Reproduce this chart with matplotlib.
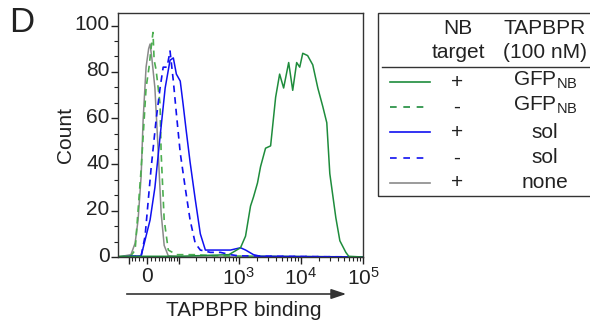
import numpy as np
import matplotlib.pyplot as plt
import matplotlib.transforms as mtransforms
from matplotlib.lines import Line2D
from matplotlib.patches import Rectangle

plt.rcParams['font.family'] = ['Liberation Sans', 'DejaVu Sans']
plt.rcParams['mathtext.fontset'] = 'custom'
plt.rcParams['mathtext.rm'] = 'Liberation Sans'
plt.rcParams['mathtext.it'] = 'Liberation Sans:italic'

# histogram traces (fluorescence intensity, count)
gray_x = [-88, -43, -31, -23, -15, -10, -2.5, 4, 7.6, 12, 20, 29, 37, 46, 59, 150, 1e5]
gray_y = [0, 1, 6, 16, 35, 59, 82, 90, 92, 86, 73, 45, 19, 5, 0.5, 0, 0]

gfp_neg_x = [-88, -43, -31, -15, -2.5, 5, 10, 15, 18, 23, 34, 37, 46, 59, 90, 200, 400, 1e5]
gfp_neg_y = [0, 0.5, 3, 38, 73, 82, 90, 97, 85, 81, 66, 45, 16, 3, 1, 1, 0.5, 0]

sol_neg_x = [-88, -15, -5, 10, 23, 34, 43, 55, 65, 77, 89, 106, 131, 160, 196, 239, 350, 511, 741, 1000, 1e5]
sol_neg_y = [0, 0.5, 9, 38, 59, 73, 82, 82, 89, 76, 62, 45, 30, 16, 6, 3, 2, 2, 1, 0.5, 0]

sol_pos_x = [-88, -15, 7.6, 20, 34, 49, 65, 77, 89, 106, 120, 136, 160, 196, 239, 290, 350, 511, 741,
             1077, 1300, 1745, 2260, 1e5]
sol_pos_y = [0, 0.5, 16, 30, 52, 73, 85, 86, 79, 76, 66, 55, 41, 25, 10, 3, 3, 3, 3, 4, 3, 1, 0.3, 0]

gfp_pos_x = [-88, 100, 700, 1077, 1297, 1560, 1745, 2020, 2260, 2720, 3280, 3950, 4580, 5310, 6400,
             7430, 8600, 9630, 10770, 12900, 15600, 18800, 22600, 26200, 29300, 36600, 42500,
             53000, 59000, 1e5]
gfp_pos_y = [0.3, 0.3, 1, 4, 9, 22, 26, 32, 39, 47, 48, 69, 79, 73, 84, 72, 84, 82, 88, 87, 83, 73,
             65, 58, 36, 17, 7, 2, 0.3, 0]

green = '#1e8c3c'
green_l = '#4cae50'
blue = '#1010f0'
grey = '#8a8a8a'
txt = '#222222'
fs = 15

fig = plt.figure(figsize=(5.9, 3.32), dpi=100)
ax = fig.add_axes([118/590, 1-257/332, 245/590, 244/332])

w = 68.0
ax.set_xscale('function', functions=(lambda x: np.arcsinh(np.asarray(x)/w),
                                     lambda y: w*np.sinh(y)))

ax.plot(gray_x, gray_y, color=grey, lw=1.1)
ax.plot(gfp_neg_x, gfp_neg_y, color=green_l, lw=1.2, ls=(0, (4, 3)))
ax.plot(sol_neg_x, sol_neg_y, color=blue, lw=1.2, ls=(0, (4, 3)))
ax.plot(sol_pos_x, sol_pos_y, color=blue, lw=1.1)
ax.plot(gfp_pos_x, gfp_pos_y, color=green, lw=1.1)

ax.set_xlim(-88, 1e5)
ax.set_ylim(0, 105.4)

ax.set_xticks([-50, 0, 100, 1e3, 1e4, 1e5])
ax.set_xticklabels(['', '0', '', r'$10^3$', r'$10^4$', r'$10^5$'])
minor = [-40, -30, -20, -10, 10, 20, 30, 40, 50, 60, 70, 80, 90]
minor += [200, 300, 400, 500, 600, 700, 800, 900]
minor += [2000, 3000, 4000, 5000, 6000, 7000, 8000, 9000]
minor += [20000, 30000, 40000, 50000, 60000, 70000, 80000, 90000]
ax.set_xticks(minor, minor=True)
ax.set_yticks([0, 20, 40, 60, 80, 100])
ax.set_yticks([v*20/3 for v in range(16) if v % 3], minor=True)

ax.tick_params(axis='both', which='major', direction='out', length=5, width=1,
               labelsize=fs, colors=txt)
ax.tick_params(axis='both', which='minor', direction='out', length=3, width=0.8, colors=txt)
ax.tick_params(axis='y', which='major', pad=1)
ax.tick_params(axis='x', which='major', pad=2)
up = mtransforms.ScaledTranslation(0, 3/100, fig.dpi_scale_trans)
for lab in ax.get_yticklabels():
    lab.set_transform(lab.get_transform() + up)
for s in ax.spines.values():
    s.set_linewidth(1.0)
    s.set_color('#333333')

fig.text(66/590, 1-135/332, 'Count', rotation=90, ha='center', va='center', fontsize=fs, color=txt)
fig.text(22/590, 1-22/332, 'D', ha='center', va='center', fontsize=25, color=txt)
fig.text(244/590, 1-311/332, 'TAPBPR binding', ha='center', va='center', fontsize=fs, color=txt)
fig.add_artist(plt.Line2D([127/590, 340/590], [1-294/332, 1-294/332], color='#333333', lw=1.2))
ax.annotate('', xy=(349/590, 1-294/332), xytext=(330/590, 1-294/332), xycoords='figure fraction',
            arrowprops=dict(arrowstyle='-|>,head_length=0.9,head_width=0.3', color='#333333', lw=1.2))

# legend table
fig.add_artist(Rectangle((378/590, 1-196/332), 230/590, 183/332, transform=fig.transFigure,
                         fill=False, ec='#333333', lw=1.0))
fig.add_artist(Line2D([382/590, 1.0], [1-67/332, 1-67/332], color='#333333', lw=1.0))
fig.text(458/590, 1-28/332, 'NB', ha='center', va='center', fontsize=fs, color=txt)
fig.text(458/590, 1-53/332, 'target', ha='center', va='center', fontsize=fs, color=txt)
fig.text(545/590, 1-28/332, 'TAPBPR', ha='center', va='center', fontsize=fs, color=txt)
fig.text(545/590, 1-53/332, '(100 nM)', ha='center', va='center', fontsize=fs, color=txt)

rows = [(green, '-', '+', r'GFP$_{\mathrm{NB}}$'),
        (green, (0, (4, 4)), '-', r'GFP$_{\mathrm{NB}}$'),
        (blue, '-', '+', 'sol'),
        (blue, (0, (4, 4)), '-', 'sol'),
        (grey, '-', '+', 'none')]
row_y = [82, 107, 132, 158, 183]
for (c, ls, sign, lab), yy in zip(rows, row_y):
    yf = 1 - yy/332
    fig.add_artist(Line2D([390/590, 430/590], [yf, yf], color=c, ls=ls, lw=1.2))
    fig.text(457/590, yf, sign, ha='center', va='center', fontsize=fs, color=txt)
    fig.text(545/590, yf + (2/332 if 'GFP' in lab else 0), lab, ha='center', va='center',
             fontsize=fs, color=txt)

fig.savefig('out.png', dpi=100)
